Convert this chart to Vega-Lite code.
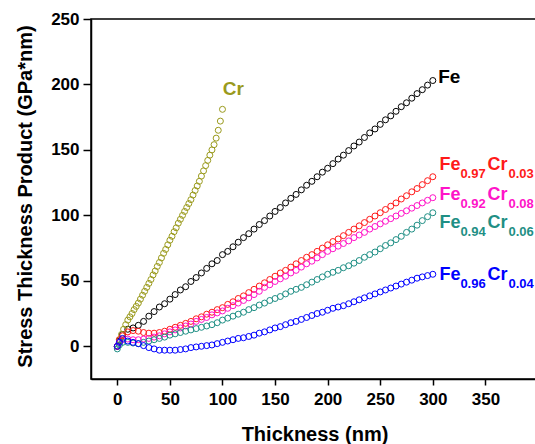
{
  "$schema": "https://vega.github.io/schema/vega-lite/v6.json",
  "autosize": "none",
  "padding": {"left": 91, "top": 19, "right": 0, "bottom": 65},
  "width": 447,
  "height": 360,
  "background": "white",
  "config": {
    "view": {"stroke": "#000", "strokeWidth": 1.5},
    "axis": {
      "grid": false,
      "domainColor": "#000",
      "domainWidth": 1.5,
      "tickColor": "#000",
      "tickWidth": 1.5,
      "labelFont": "Liberation Sans",
      "labelFontWeight": "bold",
      "labelFontSize": 17,
      "labelColor": "#000",
      "titleFont": "Liberation Sans",
      "titleFontWeight": "bold",
      "titleFontSize": 20,
      "titleColor": "#000"
    }
  },
  "datasets": {
    "curves": [
      {"sample":"Fe","x":0,"y":0},{"sample":"Fe","x":2,"y":4},{"sample":"Fe","x":5,"y":9},{"sample":"Fe","x":10,"y":13},{"sample":"Fe","x":15,"y":14},{"sample":"Fe","x":20,"y":16},{"sample":"Fe","x":25,"y":19},{"sample":"Fe","x":30,"y":23},{"sample":"Fe","x":35,"y":26.5},{"sample":"Fe","x":40,"y":30},{"sample":"Fe","x":45,"y":32.5},{"sample":"Fe","x":50,"y":36},{"sample":"Fe","x":55,"y":39.5},{"sample":"Fe","x":60,"y":43},{"sample":"Fe","x":65,"y":45.5},{"sample":"Fe","x":70,"y":49.5},{"sample":"Fe","x":75,"y":52.5},{"sample":"Fe","x":80,"y":56},{"sample":"Fe","x":85,"y":59.5},{"sample":"Fe","x":90,"y":63},{"sample":"Fe","x":95,"y":65.5},{"sample":"Fe","x":100,"y":70},{"sample":"Fe","x":105,"y":72.5},{"sample":"Fe","x":110,"y":76},{"sample":"Fe","x":115,"y":79.5},{"sample":"Fe","x":120,"y":83},{"sample":"Fe","x":125,"y":86},{"sample":"Fe","x":130,"y":89.5},{"sample":"Fe","x":135,"y":93},{"sample":"Fe","x":140,"y":96},{"sample":"Fe","x":145,"y":99.5},{"sample":"Fe","x":150,"y":103},{"sample":"Fe","x":155,"y":106},{"sample":"Fe","x":160,"y":109.5},{"sample":"Fe","x":165,"y":113},{"sample":"Fe","x":170,"y":116},{"sample":"Fe","x":175,"y":119.5},{"sample":"Fe","x":180,"y":123},{"sample":"Fe","x":185,"y":126},{"sample":"Fe","x":190,"y":129.5},{"sample":"Fe","x":195,"y":133},{"sample":"Fe","x":200,"y":136},{"sample":"Fe","x":205,"y":139.5},{"sample":"Fe","x":210,"y":143},{"sample":"Fe","x":215,"y":146},{"sample":"Fe","x":220,"y":149.5},{"sample":"Fe","x":225,"y":153},{"sample":"Fe","x":230,"y":156},{"sample":"Fe","x":235,"y":159.5},{"sample":"Fe","x":240,"y":163},{"sample":"Fe","x":245,"y":166},{"sample":"Fe","x":250,"y":169.5},{"sample":"Fe","x":255,"y":173},{"sample":"Fe","x":260,"y":176},{"sample":"Fe","x":265,"y":179.5},{"sample":"Fe","x":270,"y":183},{"sample":"Fe","x":275,"y":186},{"sample":"Fe","x":280,"y":189.5},{"sample":"Fe","x":285,"y":193},{"sample":"Fe","x":290,"y":196},{"sample":"Fe","x":295,"y":199.5},{"sample":"Fe","x":300,"y":203},
      {"sample":"Cr","x":0,"y":0},{"sample":"Cr","x":2,"y":5},{"sample":"Cr","x":4,"y":9},{"sample":"Cr","x":6,"y":13},{"sample":"Cr","x":8,"y":16.5},{"sample":"Cr","x":10,"y":20},{"sample":"Cr","x":12,"y":22.5},{"sample":"Cr","x":14,"y":25},{"sample":"Cr","x":16,"y":28},{"sample":"Cr","x":18,"y":30.5},{"sample":"Cr","x":20,"y":33},{"sample":"Cr","x":22,"y":36},{"sample":"Cr","x":24,"y":39},{"sample":"Cr","x":26,"y":42},{"sample":"Cr","x":28,"y":45},{"sample":"Cr","x":30,"y":48},{"sample":"Cr","x":32,"y":51},{"sample":"Cr","x":34,"y":54.5},{"sample":"Cr","x":36,"y":57.5},{"sample":"Cr","x":38,"y":61},{"sample":"Cr","x":40,"y":64},{"sample":"Cr","x":42,"y":67.5},{"sample":"Cr","x":44,"y":71},{"sample":"Cr","x":46,"y":74},{"sample":"Cr","x":48,"y":77.5},{"sample":"Cr","x":50,"y":81},{"sample":"Cr","x":52,"y":84},{"sample":"Cr","x":54,"y":87.5},{"sample":"Cr","x":56,"y":90.5},{"sample":"Cr","x":58,"y":94},{"sample":"Cr","x":60,"y":97},{"sample":"Cr","x":62,"y":100},{"sample":"Cr","x":64,"y":103},{"sample":"Cr","x":66,"y":106},{"sample":"Cr","x":68,"y":109},{"sample":"Cr","x":70,"y":112},{"sample":"Cr","x":72,"y":115.5},{"sample":"Cr","x":74,"y":119},{"sample":"Cr","x":76,"y":122.5},{"sample":"Cr","x":78,"y":126},{"sample":"Cr","x":80,"y":130},{"sample":"Cr","x":82,"y":134},{"sample":"Cr","x":84,"y":138},{"sample":"Cr","x":86,"y":142},{"sample":"Cr","x":88,"y":146},{"sample":"Cr","x":90,"y":150},{"sample":"Cr","x":92,"y":154},{"sample":"Cr","x":94,"y":159},{"sample":"Cr","x":96,"y":165},{"sample":"Cr","x":98,"y":172},{"sample":"Cr","x":100,"y":181},
      {"sample":"Fe0.97Cr0.03","x":0,"y":0},{"sample":"Fe0.97Cr0.03","x":2,"y":5},{"sample":"Fe0.97Cr0.03","x":5,"y":8},{"sample":"Fe0.97Cr0.03","x":10,"y":11},{"sample":"Fe0.97Cr0.03","x":15,"y":12},{"sample":"Fe0.97Cr0.03","x":20,"y":11.5},{"sample":"Fe0.97Cr0.03","x":25,"y":10.5},{"sample":"Fe0.97Cr0.03","x":30,"y":10},{"sample":"Fe0.97Cr0.03","x":35,"y":10},{"sample":"Fe0.97Cr0.03","x":40,"y":10.5},{"sample":"Fe0.97Cr0.03","x":45,"y":11.5},{"sample":"Fe0.97Cr0.03","x":50,"y":13},{"sample":"Fe0.97Cr0.03","x":55,"y":14.5},{"sample":"Fe0.97Cr0.03","x":60,"y":16},{"sample":"Fe0.97Cr0.03","x":65,"y":17.5},{"sample":"Fe0.97Cr0.03","x":70,"y":19},{"sample":"Fe0.97Cr0.03","x":75,"y":21},{"sample":"Fe0.97Cr0.03","x":80,"y":22.5},{"sample":"Fe0.97Cr0.03","x":85,"y":24.5},{"sample":"Fe0.97Cr0.03","x":90,"y":26},{"sample":"Fe0.97Cr0.03","x":95,"y":28},{"sample":"Fe0.97Cr0.03","x":100,"y":29.5},{"sample":"Fe0.97Cr0.03","x":105,"y":32},{"sample":"Fe0.97Cr0.03","x":110,"y":34},{"sample":"Fe0.97Cr0.03","x":115,"y":36.5},{"sample":"Fe0.97Cr0.03","x":120,"y":38.5},{"sample":"Fe0.97Cr0.03","x":125,"y":41},{"sample":"Fe0.97Cr0.03","x":130,"y":43.5},{"sample":"Fe0.97Cr0.03","x":135,"y":46},{"sample":"Fe0.97Cr0.03","x":140,"y":48.5},{"sample":"Fe0.97Cr0.03","x":145,"y":51},{"sample":"Fe0.97Cr0.03","x":150,"y":53.5},{"sample":"Fe0.97Cr0.03","x":155,"y":56},{"sample":"Fe0.97Cr0.03","x":160,"y":58},{"sample":"Fe0.97Cr0.03","x":165,"y":60.5},{"sample":"Fe0.97Cr0.03","x":170,"y":63},{"sample":"Fe0.97Cr0.03","x":175,"y":65.5},{"sample":"Fe0.97Cr0.03","x":180,"y":68},{"sample":"Fe0.97Cr0.03","x":185,"y":70},{"sample":"Fe0.97Cr0.03","x":190,"y":72.5},{"sample":"Fe0.97Cr0.03","x":195,"y":75},{"sample":"Fe0.97Cr0.03","x":200,"y":77.5},{"sample":"Fe0.97Cr0.03","x":205,"y":80},{"sample":"Fe0.97Cr0.03","x":210,"y":82},{"sample":"Fe0.97Cr0.03","x":215,"y":84.5},{"sample":"Fe0.97Cr0.03","x":220,"y":87},{"sample":"Fe0.97Cr0.03","x":225,"y":89.5},{"sample":"Fe0.97Cr0.03","x":230,"y":92},{"sample":"Fe0.97Cr0.03","x":235,"y":94.5},{"sample":"Fe0.97Cr0.03","x":240,"y":97},{"sample":"Fe0.97Cr0.03","x":245,"y":99.5},{"sample":"Fe0.97Cr0.03","x":250,"y":102},{"sample":"Fe0.97Cr0.03","x":255,"y":104.5},{"sample":"Fe0.97Cr0.03","x":260,"y":107},{"sample":"Fe0.97Cr0.03","x":265,"y":109.5},{"sample":"Fe0.97Cr0.03","x":270,"y":112.5},{"sample":"Fe0.97Cr0.03","x":275,"y":115},{"sample":"Fe0.97Cr0.03","x":280,"y":118},{"sample":"Fe0.97Cr0.03","x":285,"y":120.5},{"sample":"Fe0.97Cr0.03","x":290,"y":123.5},{"sample":"Fe0.97Cr0.03","x":295,"y":126.5},{"sample":"Fe0.97Cr0.03","x":300,"y":129.5},
      {"sample":"Fe0.92Cr0.08","x":0,"y":0},{"sample":"Fe0.92Cr0.08","x":2,"y":3},{"sample":"Fe0.92Cr0.08","x":5,"y":5},{"sample":"Fe0.92Cr0.08","x":10,"y":5.5},{"sample":"Fe0.92Cr0.08","x":15,"y":5},{"sample":"Fe0.92Cr0.08","x":20,"y":5},{"sample":"Fe0.92Cr0.08","x":25,"y":5.5},{"sample":"Fe0.92Cr0.08","x":30,"y":6},{"sample":"Fe0.92Cr0.08","x":35,"y":7},{"sample":"Fe0.92Cr0.08","x":40,"y":8},{"sample":"Fe0.92Cr0.08","x":45,"y":9.5},{"sample":"Fe0.92Cr0.08","x":50,"y":11},{"sample":"Fe0.92Cr0.08","x":55,"y":12.5},{"sample":"Fe0.92Cr0.08","x":60,"y":14},{"sample":"Fe0.92Cr0.08","x":65,"y":15.5},{"sample":"Fe0.92Cr0.08","x":70,"y":17},{"sample":"Fe0.92Cr0.08","x":75,"y":19},{"sample":"Fe0.92Cr0.08","x":80,"y":20.5},{"sample":"Fe0.92Cr0.08","x":85,"y":22},{"sample":"Fe0.92Cr0.08","x":90,"y":24},{"sample":"Fe0.92Cr0.08","x":95,"y":25.5},{"sample":"Fe0.92Cr0.08","x":100,"y":27},{"sample":"Fe0.92Cr0.08","x":105,"y":29},{"sample":"Fe0.92Cr0.08","x":110,"y":31},{"sample":"Fe0.92Cr0.08","x":115,"y":33},{"sample":"Fe0.92Cr0.08","x":120,"y":35},{"sample":"Fe0.92Cr0.08","x":125,"y":37},{"sample":"Fe0.92Cr0.08","x":130,"y":39.5},{"sample":"Fe0.92Cr0.08","x":135,"y":42},{"sample":"Fe0.92Cr0.08","x":140,"y":45},{"sample":"Fe0.92Cr0.08","x":145,"y":47},{"sample":"Fe0.92Cr0.08","x":150,"y":49.5},{"sample":"Fe0.92Cr0.08","x":155,"y":51.5},{"sample":"Fe0.92Cr0.08","x":160,"y":53.5},{"sample":"Fe0.92Cr0.08","x":165,"y":56},{"sample":"Fe0.92Cr0.08","x":170,"y":58},{"sample":"Fe0.92Cr0.08","x":175,"y":60.5},{"sample":"Fe0.92Cr0.08","x":180,"y":63},{"sample":"Fe0.92Cr0.08","x":185,"y":65},{"sample":"Fe0.92Cr0.08","x":190,"y":67.5},{"sample":"Fe0.92Cr0.08","x":195,"y":70},{"sample":"Fe0.92Cr0.08","x":200,"y":72.5},{"sample":"Fe0.92Cr0.08","x":205,"y":74.5},{"sample":"Fe0.92Cr0.08","x":210,"y":76.5},{"sample":"Fe0.92Cr0.08","x":215,"y":78.5},{"sample":"Fe0.92Cr0.08","x":220,"y":80.5},{"sample":"Fe0.92Cr0.08","x":225,"y":83},{"sample":"Fe0.92Cr0.08","x":230,"y":85},{"sample":"Fe0.92Cr0.08","x":235,"y":87},{"sample":"Fe0.92Cr0.08","x":240,"y":89.5},{"sample":"Fe0.92Cr0.08","x":245,"y":91.5},{"sample":"Fe0.92Cr0.08","x":250,"y":93.5},{"sample":"Fe0.92Cr0.08","x":255,"y":95.5},{"sample":"Fe0.92Cr0.08","x":260,"y":97.5},{"sample":"Fe0.92Cr0.08","x":265,"y":99.5},{"sample":"Fe0.92Cr0.08","x":270,"y":101.5},{"sample":"Fe0.92Cr0.08","x":275,"y":103.5},{"sample":"Fe0.92Cr0.08","x":280,"y":105.5},{"sample":"Fe0.92Cr0.08","x":285,"y":107.5},{"sample":"Fe0.92Cr0.08","x":290,"y":109.5},{"sample":"Fe0.92Cr0.08","x":295,"y":111.5},{"sample":"Fe0.92Cr0.08","x":300,"y":113.5},
      {"sample":"Fe0.94Cr0.06","x":0,"y":-2},{"sample":"Fe0.94Cr0.06","x":2,"y":1},{"sample":"Fe0.94Cr0.06","x":5,"y":3},{"sample":"Fe0.94Cr0.06","x":10,"y":3},{"sample":"Fe0.94Cr0.06","x":15,"y":2.5},{"sample":"Fe0.94Cr0.06","x":20,"y":2},{"sample":"Fe0.94Cr0.06","x":25,"y":3},{"sample":"Fe0.94Cr0.06","x":30,"y":4},{"sample":"Fe0.94Cr0.06","x":35,"y":5},{"sample":"Fe0.94Cr0.06","x":40,"y":6},{"sample":"Fe0.94Cr0.06","x":45,"y":7},{"sample":"Fe0.94Cr0.06","x":50,"y":8.5},{"sample":"Fe0.94Cr0.06","x":55,"y":9.5},{"sample":"Fe0.94Cr0.06","x":60,"y":10.5},{"sample":"Fe0.94Cr0.06","x":65,"y":11.5},{"sample":"Fe0.94Cr0.06","x":70,"y":12.5},{"sample":"Fe0.94Cr0.06","x":75,"y":13.5},{"sample":"Fe0.94Cr0.06","x":80,"y":14.5},{"sample":"Fe0.94Cr0.06","x":85,"y":15.5},{"sample":"Fe0.94Cr0.06","x":90,"y":16.5},{"sample":"Fe0.94Cr0.06","x":95,"y":18},{"sample":"Fe0.94Cr0.06","x":100,"y":20},{"sample":"Fe0.94Cr0.06","x":105,"y":21.5},{"sample":"Fe0.94Cr0.06","x":110,"y":23},{"sample":"Fe0.94Cr0.06","x":115,"y":24.5},{"sample":"Fe0.94Cr0.06","x":120,"y":26},{"sample":"Fe0.94Cr0.06","x":125,"y":28},{"sample":"Fe0.94Cr0.06","x":130,"y":29.5},{"sample":"Fe0.94Cr0.06","x":135,"y":31.5},{"sample":"Fe0.94Cr0.06","x":140,"y":33},{"sample":"Fe0.94Cr0.06","x":145,"y":35},{"sample":"Fe0.94Cr0.06","x":150,"y":36.5},{"sample":"Fe0.94Cr0.06","x":155,"y":38},{"sample":"Fe0.94Cr0.06","x":160,"y":40},{"sample":"Fe0.94Cr0.06","x":165,"y":42},{"sample":"Fe0.94Cr0.06","x":170,"y":43.5},{"sample":"Fe0.94Cr0.06","x":175,"y":45},{"sample":"Fe0.94Cr0.06","x":180,"y":47},{"sample":"Fe0.94Cr0.06","x":185,"y":49},{"sample":"Fe0.94Cr0.06","x":190,"y":51},{"sample":"Fe0.94Cr0.06","x":195,"y":53},{"sample":"Fe0.94Cr0.06","x":200,"y":55},{"sample":"Fe0.94Cr0.06","x":205,"y":56.5},{"sample":"Fe0.94Cr0.06","x":210,"y":58},{"sample":"Fe0.94Cr0.06","x":215,"y":60},{"sample":"Fe0.94Cr0.06","x":220,"y":61.5},{"sample":"Fe0.94Cr0.06","x":225,"y":63.5},{"sample":"Fe0.94Cr0.06","x":230,"y":65.5},{"sample":"Fe0.94Cr0.06","x":235,"y":68},{"sample":"Fe0.94Cr0.06","x":240,"y":70},{"sample":"Fe0.94Cr0.06","x":245,"y":72},{"sample":"Fe0.94Cr0.06","x":250,"y":74.5},{"sample":"Fe0.94Cr0.06","x":255,"y":77},{"sample":"Fe0.94Cr0.06","x":260,"y":79},{"sample":"Fe0.94Cr0.06","x":265,"y":81.5},{"sample":"Fe0.94Cr0.06","x":270,"y":84},{"sample":"Fe0.94Cr0.06","x":275,"y":87},{"sample":"Fe0.94Cr0.06","x":280,"y":89.5},{"sample":"Fe0.94Cr0.06","x":285,"y":92.5},{"sample":"Fe0.94Cr0.06","x":290,"y":96},{"sample":"Fe0.94Cr0.06","x":295,"y":99},{"sample":"Fe0.94Cr0.06","x":300,"y":102},
      {"sample":"Fe0.96Cr0.04","x":0,"y":0},{"sample":"Fe0.96Cr0.04","x":2,"y":3},{"sample":"Fe0.96Cr0.04","x":5,"y":6},{"sample":"Fe0.96Cr0.04","x":10,"y":4},{"sample":"Fe0.96Cr0.04","x":15,"y":3},{"sample":"Fe0.96Cr0.04","x":20,"y":2},{"sample":"Fe0.96Cr0.04","x":25,"y":0.5},{"sample":"Fe0.96Cr0.04","x":30,"y":-1},{"sample":"Fe0.96Cr0.04","x":35,"y":-2},{"sample":"Fe0.96Cr0.04","x":40,"y":-3},{"sample":"Fe0.96Cr0.04","x":45,"y":-3},{"sample":"Fe0.96Cr0.04","x":50,"y":-3},{"sample":"Fe0.96Cr0.04","x":55,"y":-3},{"sample":"Fe0.96Cr0.04","x":60,"y":-2.5},{"sample":"Fe0.96Cr0.04","x":65,"y":-2},{"sample":"Fe0.96Cr0.04","x":70,"y":-1},{"sample":"Fe0.96Cr0.04","x":75,"y":-0.5},{"sample":"Fe0.96Cr0.04","x":80,"y":0},{"sample":"Fe0.96Cr0.04","x":85,"y":0.5},{"sample":"Fe0.96Cr0.04","x":90,"y":1},{"sample":"Fe0.96Cr0.04","x":95,"y":2},{"sample":"Fe0.96Cr0.04","x":100,"y":3},{"sample":"Fe0.96Cr0.04","x":105,"y":4},{"sample":"Fe0.96Cr0.04","x":110,"y":5},{"sample":"Fe0.96Cr0.04","x":115,"y":6},{"sample":"Fe0.96Cr0.04","x":120,"y":6.5},{"sample":"Fe0.96Cr0.04","x":125,"y":7.5},{"sample":"Fe0.96Cr0.04","x":130,"y":8.5},{"sample":"Fe0.96Cr0.04","x":135,"y":10},{"sample":"Fe0.96Cr0.04","x":140,"y":11},{"sample":"Fe0.96Cr0.04","x":145,"y":12.5},{"sample":"Fe0.96Cr0.04","x":150,"y":14},{"sample":"Fe0.96Cr0.04","x":155,"y":15},{"sample":"Fe0.96Cr0.04","x":160,"y":16.5},{"sample":"Fe0.96Cr0.04","x":165,"y":18},{"sample":"Fe0.96Cr0.04","x":170,"y":19},{"sample":"Fe0.96Cr0.04","x":175,"y":20.5},{"sample":"Fe0.96Cr0.04","x":180,"y":22},{"sample":"Fe0.96Cr0.04","x":185,"y":23.5},{"sample":"Fe0.96Cr0.04","x":190,"y":25},{"sample":"Fe0.96Cr0.04","x":195,"y":26},{"sample":"Fe0.96Cr0.04","x":200,"y":27.5},{"sample":"Fe0.96Cr0.04","x":205,"y":29},{"sample":"Fe0.96Cr0.04","x":210,"y":30},{"sample":"Fe0.96Cr0.04","x":215,"y":31},{"sample":"Fe0.96Cr0.04","x":220,"y":32.5},{"sample":"Fe0.96Cr0.04","x":225,"y":34},{"sample":"Fe0.96Cr0.04","x":230,"y":35.5},{"sample":"Fe0.96Cr0.04","x":235,"y":37},{"sample":"Fe0.96Cr0.04","x":240,"y":38.5},{"sample":"Fe0.96Cr0.04","x":245,"y":40},{"sample":"Fe0.96Cr0.04","x":250,"y":41.5},{"sample":"Fe0.96Cr0.04","x":255,"y":43},{"sample":"Fe0.96Cr0.04","x":260,"y":44.5},{"sample":"Fe0.96Cr0.04","x":265,"y":46},{"sample":"Fe0.96Cr0.04","x":270,"y":47.5},{"sample":"Fe0.96Cr0.04","x":275,"y":49},{"sample":"Fe0.96Cr0.04","x":280,"y":50.5},{"sample":"Fe0.96Cr0.04","x":285,"y":52},{"sample":"Fe0.96Cr0.04","x":290,"y":53},{"sample":"Fe0.96Cr0.04","x":295,"y":54},{"sample":"Fe0.96Cr0.04","x":300,"y":55}
    ],
    "labels": [
      {"sample":"Cr","part":"big","text":"Cr","x":100.3,"y":191.7},
      {"sample":"Fe","part":"big","text":"Fe","x":305.1,"y":201.1},
      {"sample":"Fe0.97Cr0.03","part":"main","text":"Fe","x":306.3,"y":135.0},
      {"sample":"Fe0.97Cr0.03","part":"sub","text":"0.97","x":326.2,"y":128.8},
      {"sample":"Fe0.97Cr0.03","part":"main","text":"Cr","x":351.9,"y":135.0},
      {"sample":"Fe0.97Cr0.03","part":"sub","text":"0.03","x":371.9,"y":128.8},
      {"sample":"Fe0.92Cr0.08","part":"main","text":"Fe","x":306.3,"y":111.9},
      {"sample":"Fe0.92Cr0.08","part":"sub","text":"0.92","x":326.2,"y":105.9},
      {"sample":"Fe0.92Cr0.08","part":"main","text":"Cr","x":351.9,"y":111.9},
      {"sample":"Fe0.92Cr0.08","part":"sub","text":"0.08","x":371.9,"y":105.9},
      {"sample":"Fe0.94Cr0.06","part":"main","text":"Fe","x":306.3,"y":90.6},
      {"sample":"Fe0.94Cr0.06","part":"sub","text":"0.94","x":326.2,"y":84.0},
      {"sample":"Fe0.94Cr0.06","part":"main","text":"Cr","x":351.9,"y":90.6},
      {"sample":"Fe0.94Cr0.06","part":"sub","text":"0.06","x":371.9,"y":84.0},
      {"sample":"Fe0.96Cr0.04","part":"main","text":"Fe","x":306.3,"y":50.9},
      {"sample":"Fe0.96Cr0.04","part":"sub","text":"0.96","x":326.2,"y":44.8},
      {"sample":"Fe0.96Cr0.04","part":"main","text":"Cr","x":351.9,"y":50.9},
      {"sample":"Fe0.96Cr0.04","part":"sub","text":"0.04","x":371.9,"y":44.8}
    ]
  },
  "encoding": {
    "x": {
      "field": "x", "type": "quantitative",
      "scale": {"domain": [-25, 400], "nice": false, "zero": false},
      "axis": {
        "title": "Thickness (nm)",
        "values": [0, 50, 100, 150, 200, 250, 300, 350],
        "tickSize": 6, "labelPadding": 6,
        "titleY": 61, "titleBaseline": "alphabetic"
      }
    },
    "y": {
      "field": "y", "type": "quantitative",
      "scale": {"domain": [-25, 250], "nice": false, "zero": false},
      "axis": {
        "title": "Stress Thickness Product (GPa*nm)",
        "values": [0, 50, 100, 150, 200, 250],
        "tickSize": 8, "labelPadding": 4,
        "titleX": -66, "titleY": 177, "titleAlign": "center", "titleBaseline": "middle", "titleAngle": -90
      }
    },
    "color": {
      "field": "sample", "type": "nominal", "legend": null,
      "scale": {
        "domain": ["Cr", "Fe", "Fe0.97Cr0.03", "Fe0.92Cr0.08", "Fe0.94Cr0.06", "Fe0.96Cr0.04"],
        "range": ["#9a9a1c", "#000000", "#ff1a1a", "#ff14c8", "#1f8f85", "#0000ff"]
      }
    }
  },
  "layer": [
    {
      "data": {"name": "curves"},
      "mark": {"type": "point", "filled": false, "size": 36, "strokeWidth": 1, "opacity": 1}
    },
    {
      "data": {"name": "labels"},
      "transform": [{"filter": "datum.part === 'big'"}],
      "mark": {"type": "text", "align": "left", "baseline": "alphabetic", "font": "Liberation Sans", "fontWeight": "bold", "fontSize": 19},
      "encoding": {"text": {"field": "text"}}
    },
    {
      "data": {"name": "labels"},
      "transform": [{"filter": "datum.part === 'main'"}],
      "mark": {"type": "text", "align": "left", "baseline": "alphabetic", "font": "Liberation Sans", "fontWeight": "bold", "fontSize": 18},
      "encoding": {"text": {"field": "text"}}
    },
    {
      "data": {"name": "labels"},
      "transform": [{"filter": "datum.part === 'sub'"}],
      "mark": {"type": "text", "align": "left", "baseline": "alphabetic", "font": "Liberation Sans", "fontWeight": "bold", "fontSize": 13},
      "encoding": {"text": {"field": "text"}}
    }
  ]
}
